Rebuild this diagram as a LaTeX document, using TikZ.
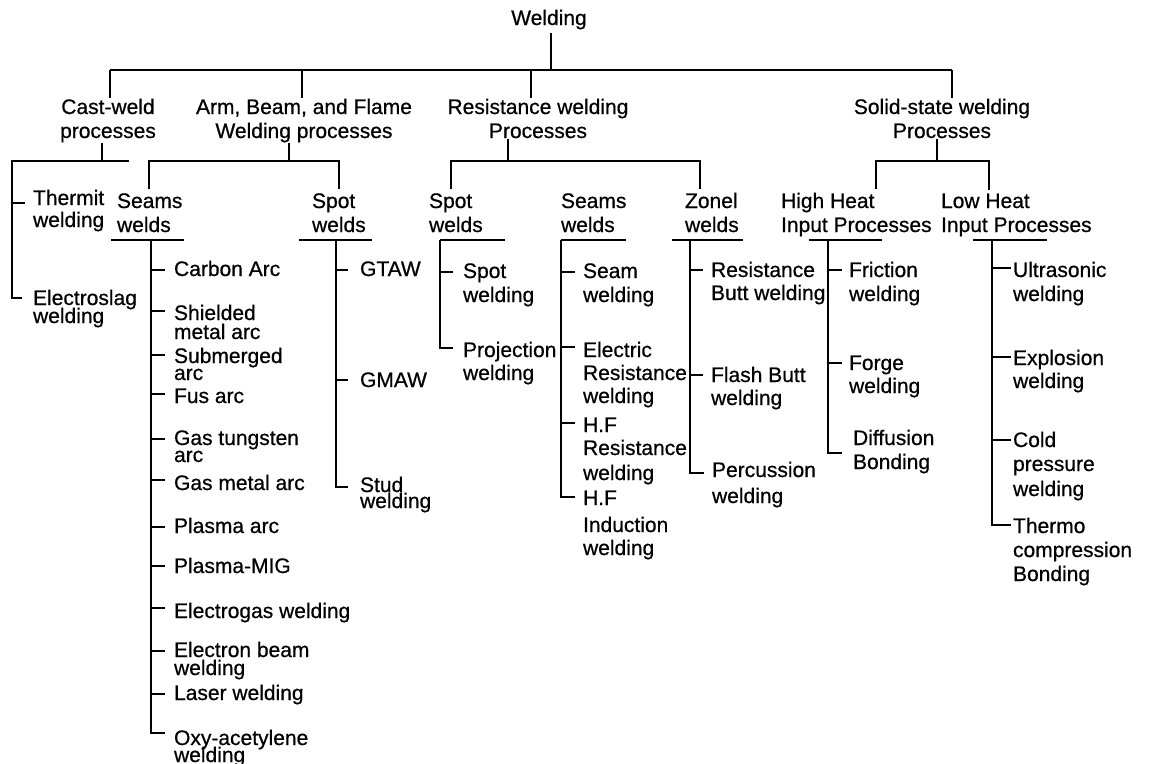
\documentclass[tikz,border=0pt]{standalone}
\usepackage{fontspec}
\setmainfont{Liberation Sans}[FakeBold=0.6]
\usetikzlibrary{calc}
\newcommand\nodefont{\fontsize{15.75}{18}\selectfont\setlength{\lineskiplimit}{-100pt}}
\newcommand\mlbreak[1][0pt]{\egroup\kern#1\hbox\bgroup}
\newcommand\ml[1]{\vtop{\let\\\mlbreak\hbox\bgroup#1\egroup}}
\newcommand\lf[6]{%
  \node[leaf] (#1) at (#2,#3) {\ml{#4}};
  \path ($(#1.base west)+(#5,#6)$) coordinate (#1-t);}
\begin{document}
\begin{tikzpicture}[x=0.75pt,y=-0.75pt,line width=1.6pt,
  every node/.style={inner sep=0pt,font=\nodefont},
  hdr/.style={anchor=base,align=center},
  sub/.style={anchor=base west,align=left,outer ysep=3pt},
  leaf/.style={anchor=base west}]
\fill[white] (0,0) rectangle (1150,764);
\useasboundingbox (0,0) rectangle (1150,764);

% ---------- headers (anchored at the baseline of their last line) ----------
\node[hdr] (title) at (549,25) {Welding};
\node[hdr] (cast)  at (108,138) {Cast-weld\\processes};
\node[hdr] (arm)   at (304,138) {Arm, Beam, and Flame\\Welding processes};
\node[hdr] (res)   at (538,138) {Resistance welding\\Processes};
\node[hdr] (solid) at (942,138) {Solid-state welding\\Processes};

\node[sub] (seamsA) at (116,232) {Seams\\welds};
\node[sub] (spotA)  at (311,232) {Spot\\welds};
\node[sub] (spotB)  at (428,232) {Spot\\welds};
\node[sub] (seamsB) at (560,232) {Seams\\welds};
\node[sub] (zonel)  at (684,232) {Zonel\\welds};
\node[sub] (high)   at (780,232) {High Heat\\Input Processes};
\node[sub] (low)    at (940,232) {Low Heat\\Input Processes};

% ---------- leaves (anchored at the baseline of their first line) ----------
\lf{therm}{32}{205}{Thermit\\[-1.5pt]welding}{-7}{-2}
\lf{eslag}{32}{305}{Electroslag\\[-4.5pt]welding}{-10}{-7}

\lf{carb}{173}{276}{Carbon Arc}{-8}{-6}
\lf{shmet}{173}{320}{Shielded\\[-3.75pt]metal arc}{-8}{-9}
\lf{subm}{173}{363}{Submerged\\[-5.25pt]arc}{-8}{-8}
\lf{fus}{173}{403}{Fus arc}{-8}{-9}
\lf{gtung}{173}{445}{Gas tungsten\\[-5.25pt]arc}{-8}{-6}
\lf{gmet}{173}{490}{Gas metal arc}{-8}{-10}
\lf{plarc}{173}{533}{Plasma arc}{-8}{-6}
\lf{plmig}{173}{573}{Plasma-MIG}{-8}{-7}
\lf{egas}{173}{618}{Electrogas welding}{-8}{-10}
\lf{ebeam}{173}{657}{Electron beam\\[-4.5pt]welding}{-8}{-6}
\lf{laser}{173}{700}{Laser welding}{-8}{-6}
\lf{oxy}{173}{745}{Oxy-acetylene\\[-5.25pt]welding}{-8}{-12}

\lf{gtaw}{359}{276}{GTAW}{-11}{-6}
\lf{gmaw}{359}{387}{GMAW}{-11}{-7}
\lf{stud}{359}{492}{Stud\\[-6pt]welding}{-11}{-5}

\lf{spotw}{462}{278}{Spot\\welding}{-9}{-6}
\lf{proj}{462}{357}{Projection\\[-0.75pt]welding}{-9}{-9}

\lf{seamw}{582}{278}{Seam\\welding}{-7}{-6}
\lf{elres}{582}{357}{Electric\\[-0.75pt]Resistance\\[-0.75pt]welding}{-7}{-10}
\lf{hfres}{582}{432}{H.F\\[-0.75pt]Resistance\\[0.75pt]welding}{-7}{-9}
\lf{hfind}{582}{505}{H.F\\[2.25pt]Induction\\[-0.75pt]welding}{-7}{-8}

\lf{rbutt}{710}{277}{Resistance\\[-0.75pt]Butt welding}{-7}{-7}
\lf{fbutt}{710}{382}{Flash Butt\\[-0.75pt]welding}{-7}{-7}
\lf{perc}{711}{477}{Percussion\\[1.5pt]welding}{-7}{-4}

\lf{fric}{848}{277}{Friction\\welding}{-6}{-7}
\lf{forge}{848}{370}{Forge\\[-0.75pt]welding}{-6}{-7}
\lf{diff}{852}{445}{Diffusion\\Bonding}{-10}{8}

\lf{ultra}{1012}{277}{Ultrasonic\\welding}{-1}{-9}
\lf{explo}{1012}{365}{Explosion\\[-0.75pt]welding}{-1}{-8}
\lf{cold}{1012}{447}{Cold\\pressure\\[0.75pt]welding}{-1}{-7}
\lf{thermo}{1012}{533}{Thermo\\compression\\Bonding}{-1}{-8}

% ---------- junction coordinates ----------
\coordinate (top) at (551,70);
\coordinate (t1) at (110,70);
\coordinate (t2) at (302,70);
\coordinate (t3) at (531,70);
\coordinate (t4) at (952,70);

\coordinate (c1) at (102,161); \coordinate (cL) at (12,161);  \coordinate (cR) at (129,161);
\coordinate (a1) at (289,161); \coordinate (aL) at (149,161); \coordinate (aR) at (339,161);
\coordinate (r1) at (508,161); \coordinate (rL) at (451,161); \coordinate (rR) at (700,161);
\coordinate (s1) at (937,161); \coordinate (sL) at (876,161); \coordinate (sR) at (989,161);

\coordinate (uAl) at (111,240); \coordinate (uAr) at (184,240); \coordinate (vA) at (151,240);
\coordinate (uBl) at (299,240); \coordinate (uBr) at (372,240); \coordinate (vB) at (336,240);
\coordinate (uCl) at (440,240); \coordinate (uCr) at (505,240); \coordinate (vC) at (440,240);
\coordinate (uDl) at (561,240); \coordinate (uDr) at (626,240); \coordinate (vD) at (561,240);
\coordinate (uEl) at (672,240); \coordinate (uEr) at (743,240); \coordinate (vE) at (690,240);
\coordinate (uFl) at (809,240); \coordinate (uFr) at (882,240); \coordinate (vF) at (828,240);
\coordinate (uGl) at (973,240); \coordinate (uGr) at (1047,240); \coordinate (vG) at (992,240);

% ---------- connectors ----------
\draw ([yshift=-2pt]title.south -| top) -- (top);
\draw (t1) -- (t4);
\draw (t1) -- (t1 |- cast.north);
\draw (t2) -- (t2 |- arm.north);
\draw (t3) -- (t3 |- res.north);
\draw (t4) -- (t4 |- solid.north);

% cast-weld
\draw (c1 |- cast.south) -- (c1);
\draw (cR) -- (cL) |- (eslag-t);
\draw (cL |- therm-t) -- (therm-t);

% arm, beam, flame
\draw (a1 |- arm.south) -- (a1);
\draw (aL |- seamsA.north) -- (aL) -- (aR) -- (aR |- spotA.north);
\draw (uAl) -- (uAr);
\draw (uBl) -- (uBr);
\draw (vA) |- (oxy-t);
\foreach \n in {carb,shmet,subm,fus,gtung,gmet,plarc,plmig,egas,ebeam,laser}
  \draw (vA |- \n-t) -- (\n-t);
\draw (vB) |- (stud-t);
\foreach \n in {gtaw,gmaw}
  \draw (vB |- \n-t) -- (\n-t);

% resistance
\draw (r1 |- res.south) -- (r1);
\draw (rL |- spotB.north) -- (rL) -- (rR) -- (rR |- zonel.north);
\draw (uCl) -- (uCr);
\draw (uDl) -- (uDr);
\draw (uEl) -- (uEr);
\draw (vC) |- (proj-t);
\draw (vC |- spotw-t) -- (spotw-t);
\draw (vD) |- (hfind-t);
\foreach \n in {seamw,elres,hfres}
  \draw (vD |- \n-t) -- (\n-t);
\draw (vE) |- (perc-t);
\foreach \n in {rbutt,fbutt}
  \draw (vE |- \n-t) -- (\n-t);

% solid state
\draw (s1 |- solid.south) -- (s1);
\draw (sL |- high.north) -- (sL) -- (sR) -- (sR |- low.north);
\draw (uFl) -- (uFr);
\draw (uGl) -- (uGr);
\draw (vF) |- (diff-t);
\foreach \n in {fric,forge}
  \draw (vF |- \n-t) -- (\n-t);
\draw (vG) |- (thermo-t);
\foreach \n in {ultra,explo,cold}
  \draw (vG |- \n-t) -- (\n-t);
\end{tikzpicture}
\end{document}
